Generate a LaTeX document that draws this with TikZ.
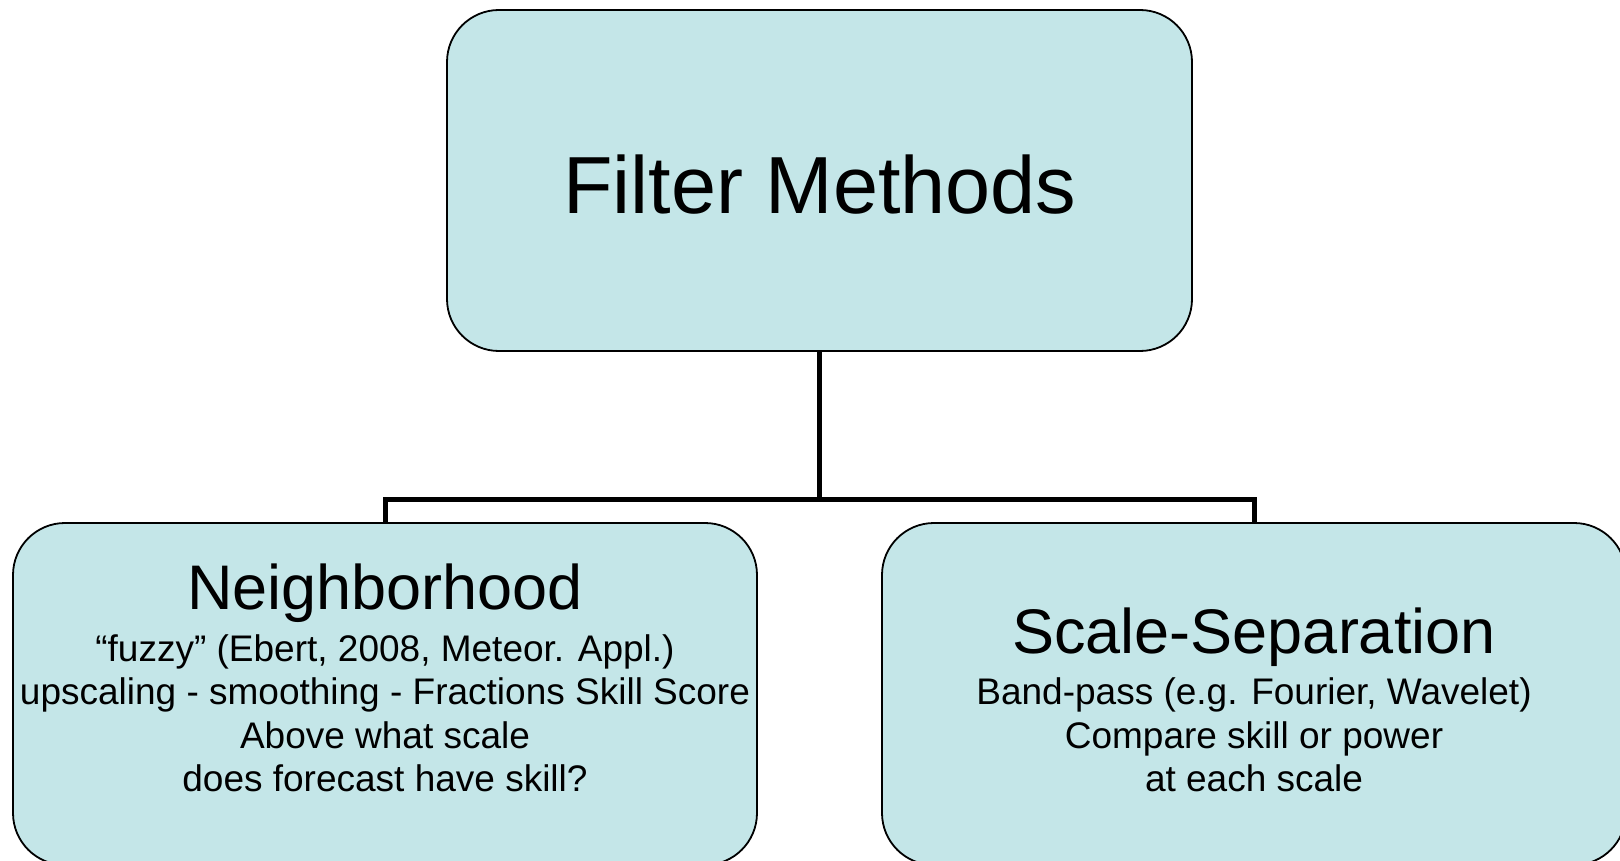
\documentclass[tikz,border=0pt]{standalone}
\usepackage{fontspec}
\setmainfont{Liberation Sans}
\definecolor{boxfill}{RGB}{196,230,232}
\tikzset{
  box/.style={draw=black, line width=1.8pt, fill=boxfill, rounded corners=52pt,
    minimum width=745pt, minimum height=341pt, inner sep=0pt},
  conn/.style={draw=black, line width=5pt},
  bigtxt/.style={font=\fontsize{81}{97}\selectfont, inner sep=0pt, anchor=base},
  midtxt/.style={font=\fontsize{63}{75}\selectfont, inner sep=0pt, anchor=base},
  smalltxt/.style={font=\fontsize{37}{44}\selectfont, inner sep=0pt, anchor=base},
}
\begin{document}
\begin{tikzpicture}[x=1pt,y=-1pt]
\useasboundingbox (0,0) rectangle (1620,861);
\node[box] (top) at (819.5,180.5) {};
\node[box, minimum width=744pt, minimum height=342pt] (left) at (385,694) {};
\node[box, minimum width=744pt, minimum height=342pt] (right) at (1254,694) {};
\draw[conn] (top.south) -- ++(0,148) coordinate (j) -| (left.north);
\draw[conn] (j) -| (right.north);
\node[bigtxt] (t1) at (820,214) {Filter Methods};
\node[midtxt] (l1) at (385,609) {Neighborhood};
\node[smalltxt] (l2) at (385,661) {“fuzzy” (Ebert, 2008, Meteor. Appl.)};
\node[smalltxt] (l3) at (385,704) {upscaling - smoothing - Fractions Skill Score};
\node[smalltxt] (l4) at (385,748) {Above what scale};
\node[smalltxt] (l5) at (385,791) {does forecast have skill?};
\node[midtxt] (r1) at (1254,653) {Scale-Separation};
\node[smalltxt] (r2) at (1254,704) {Band-pass (e.g. Fourier, Wavelet)};
\node[smalltxt] (r3) at (1254,748) {Compare skill or power};
\node[smalltxt] (r4) at (1254,791) {at each scale};
\end{tikzpicture}
\end{document}
